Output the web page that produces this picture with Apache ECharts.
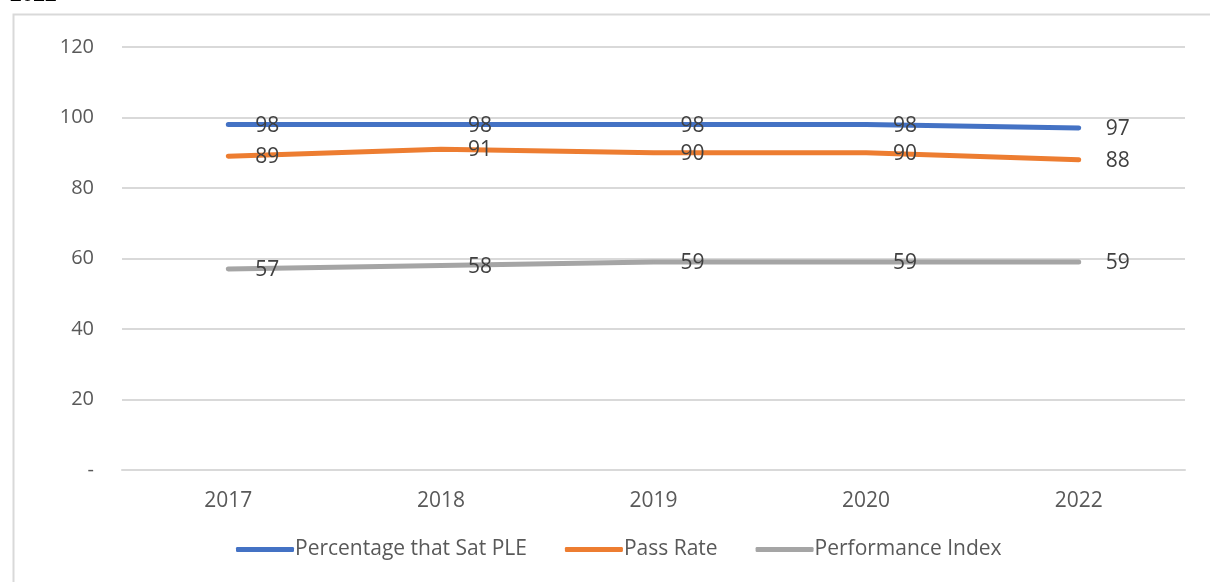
<!DOCTYPE html>
<html>
<head>
<meta charset="utf-8">
<script src="https://cdn.jsdelivr.net/npm/echarts@6/dist/echarts.min.js"></script>
<style>
  html, body { margin: 0; padding: 0; background: #fff; }
  #chart { width: 1210px; height: 582px; }
</style>
</head>
<body>
<div id="chart"></div>
<script>
// data
const years = ['2017', '2018', '2019', '2020', '2022']
const satPle = [98, 98, 98, 98, 97]
const passRate = [89, 91, 90, 90, 88]
const perfIndex = [57, 58, 59, 59, 59]

const chart = echarts.init(document.getElementById('chart'))

function makeSeries(name, data, color) {
  return {
    name: name,
    type: 'line',
    data: data,
    showSymbol: true,
    symbol: 'circle',
    symbolSize: 2,
    lineStyle: { width: 5, color: color, cap: 'round' },
    itemStyle: { color: color },
    // labels sit a bit to the right of each point
    label: {
      show: true,
      position: 'inside',
      offset: [39, 1],
      color: '#404040',
      fontSize: 21,
      fontFamily: 'Open Sans'
    },
    emphasis: { disabled: true },
    animation: false
  }
}

chart.setOption({
  graphic: [
    {
      type: 'rect',
      left: 11,
      top: 12,
      shape: { width: 1400, height: 800 },
      style: { fill: 'none', stroke: '#d9d9d9', lineWidth: 2 },
      z: -1
    },
    {
      type: 'text',
      left: 10,
      top: -15,
      style: { text: '2022', font: 'bold 21px Liberation Sans', fill: '#000' }
    }
  ],
  grid: { left: 122, right: 25, top: 47, bottom: 112 },
  legend: {
    bottom: 17,
    left: 231,
    itemWidth: 58,
    itemHeight: 5,
    itemGap: 38,
    icon: 'roundRect',
    textStyle: { color: '#595959', fontSize: 21, fontFamily: 'Open Sans', padding: [0, 0, 0, -4] },
    data: ['Percentage that Sat PLE', 'Pass Rate', 'Performance Index']
  },
  xAxis: {
    type: 'category',
    data: years,
    boundaryGap: true,
    axisLine: { lineStyle: { color: '#d9d9d9', width: 2 } },
    axisTick: { show: false },
    axisLabel: { color: '#595959', fontSize: 21, fontFamily: 'Open Sans', margin: 21 }
  },
  yAxis: {
    type: 'value',
    min: 0,
    max: 120,
    interval: 20,
    axisLine: { show: false },
    axisTick: { show: false },
    splitLine: { lineStyle: { color: '#d9d9d9', width: 2 } },
    axisLabel: {
      color: '#595959',
      fontSize: 20,
      fontFamily: 'Open Sans',
      margin: 28,
      formatter: v => (v === 0 ? '-' : v)
    }
  },
  series: [
    makeSeries('Percentage that Sat PLE', satPle, '#4472C4'),
    makeSeries('Pass Rate', passRate, '#ED7D31'),
    makeSeries('Performance Index', perfIndex, '#A5A5A5')
  ]
})
</script>
</body>
</html>
